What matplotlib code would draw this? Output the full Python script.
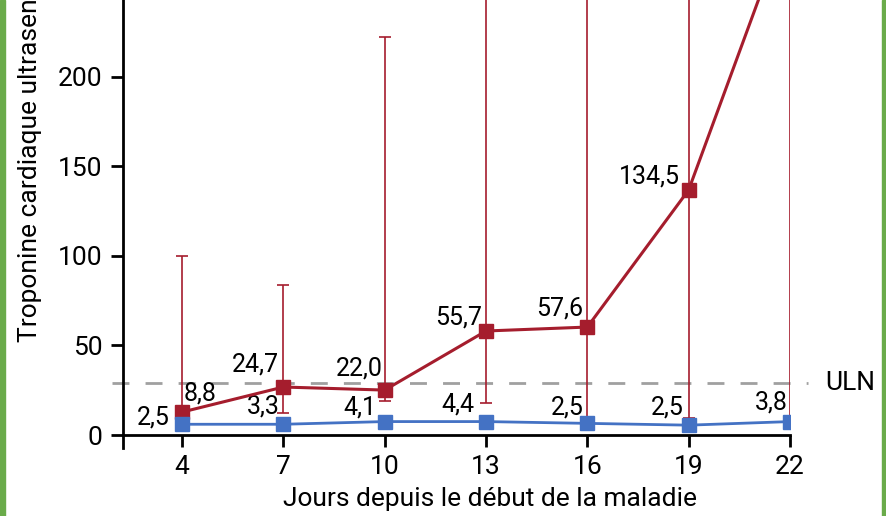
import matplotlib

matplotlib.use("Agg")
import matplotlib.pyplot as plt
from matplotlib.patches import Rectangle

plt.rcParams["font.family"] = ["Roboto", "DejaVu Sans"]

# données
days = [4, 7, 10, 13, 16, 19, 22]

red_values = [12.8, 26.8, 25.1, 58.1, 60.3, 136.9, 291]
red_low = [11, 12.3, 19.0, 17.9, 10.0, 9.5, 8.0]
red_high = [100, 83.8, 222.3, 300, 400, 450, 600]
red_labels = ["8,8", "24,7", "22,0", "55,7", "57,6", "134,5"]

blue_values = [6.0, 6.0, 7.5, 7.5, 6.5, 5.5, 7.5]
blue_labels = ["2,5", "3,3", "4,1", "4,4", "2,5", "2,5", "3,8"]

uln = 29

RED = "#a51d2d"
BLUE = "#4472c4"

# décalages des étiquettes (pixels)
red_offsets = [(2, 19, "left"), (-4, 23, "right"), (-2, 22, "right"),
               (-4, 13, "right"), (-4, 19, "right"), (-9, 13, "right")]
blue_offsets = [(-12, 7), (-4, 18), (-8, 14), (-12, 17), (-4, 16), (-5, 18), (-2, 19)]

fig = plt.figure(figsize=(8.86, 5.16), dpi=100)
ax = fig.add_axes([123 / 886, 1 - 448 / 516, (790 - 123) / 886, 448 / 516])

# limite supérieure normale
ax.plot([1.93, 22.53], [uln, uln], color="#a0a0a0", lw=2, dashes=(6.1, 5.8),
        clip_on=False, zorder=1)
ax.text(23.04, uln, "ULN", fontsize=19, va="center", ha="left", clip_on=False)

yerr = [[v - lo for v, lo in zip(red_values, red_low)],
        [hi - v for v, hi in zip(red_values, red_high)]]
ax.errorbar(days, red_values, yerr=yerr, color=RED, lw=2.2, marker="s",
            markersize=10, elinewidth=1.2, capsize=4, capthick=1.2, zorder=3)
ax.plot(days, blue_values, color=BLUE, lw=2, marker="s", markersize=10, zorder=4)

for d, v, lab, (dx, dy, ha) in zip(days, red_values, red_labels, red_offsets):
    ax.annotate(lab, (d, v), xytext=(dx, dy), textcoords="offset pixels",
                ha=ha, va="center", fontsize=18)
for d, v, lab, (dx, dy) in zip(days, blue_values, blue_labels, blue_offsets):
    ax.annotate(lab, (d, v), xytext=(dx, dy), textcoords="offset pixels",
                ha="right", va="center", fontsize=18)

ax.set_xlim(2.253, 22)
ax.set_ylim(-7.26, 243)
ax.set_xticks(days)
ax.set_yticks([0, 50, 100, 150, 200])
ax.spines["top"].set_visible(False)
ax.spines["right"].set_visible(False)
ax.spines["bottom"].set_position(("data", 0))
ax.spines["left"].set_linewidth(2)
ax.spines["bottom"].set_linewidth(2)
ax.tick_params(axis="x", direction="out", length=8.6, width=2, labelsize=19, pad=6)
ax.tick_params(axis="y", direction="out", length=8.6, width=2, labelsize=19, pad=6)

fig.text(0.5 * (283 + 697) / 886, 1 - 499 / 516, "Jours depuis le début de la maladie",
         fontsize=19, ha="center", va="center")
fig.text(30 / 886, 1 - 342 / 516, "Troponine cardiaque ultrasensible I (pg/ml)",
         fontsize=19, rotation=90, ha="center", va="bottom")

# bordures vertes
fig.patches.append(Rectangle((0, 0), 5 / 886, 1, transform=fig.transFigure,
                             color="#6aab4a", zorder=0))
fig.patches.append(Rectangle((882 / 886, 0), 4 / 886, 1, transform=fig.transFigure,
                             color="#6aab4a", zorder=0))

fig.savefig("out.png", dpi=100)
